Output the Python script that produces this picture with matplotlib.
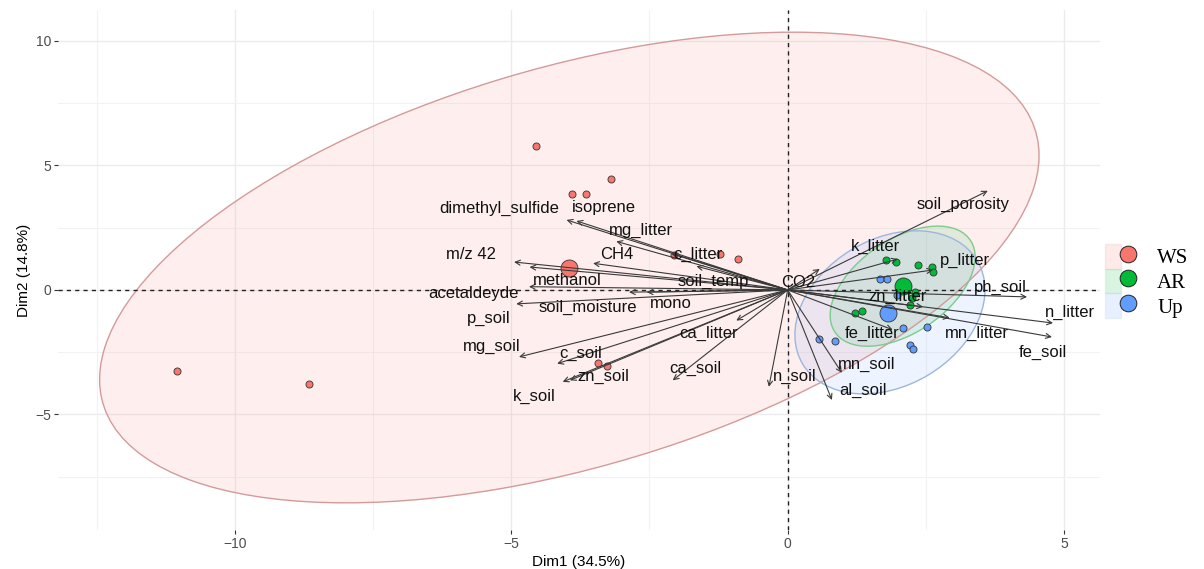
import matplotlib
matplotlib.use("Agg")
import matplotlib.pyplot as plt
from matplotlib.patches import Ellipse, Rectangle
from matplotlib.lines import Line2D
from matplotlib.legend_handler import HandlerTuple

# ---------------- data ----------------
groups = ["WS", "AR", "Up"]
group_colors = ["#F8766D", "#00BA38", "#619CFF"]

ws_x = [-4.55, -3.90, -3.64, -3.19, -1.23, -0.89, -2.05, -3.44, -3.26, -11.05, -8.66]
ws_y = [5.78, 3.86, 3.86, 4.46, 1.45, 1.24, 1.40, -2.93, -3.05, -3.25, -3.78]
ar_x = [1.78, 1.96, 2.36, 2.61, 2.63, 2.30, 2.21, 1.21, 1.34, 2.25]
ar_y = [1.20, 1.12, 1.00, 0.92, 0.72, -0.08, -0.60, -0.92, -0.84, -0.32]
up_x = [1.67, 1.79, 1.97, 2.08, 2.52, 2.21, 2.26, 0.56, 0.85]
up_y = [0.44, 0.44, -0.20, -1.53, -1.49, -2.21, -2.37, -1.97, -2.05]

mean_x = [-3.95, 2.08, 1.81]
mean_y = [0.88, 0.16, -0.92]

# ellipses: centre, full width, full height, angle (data units / degrees)
ell_cx = [-3.95, 2.08, 1.85]
ell_cy = [0.90, 0.15, -0.90]
ell_w = [21.90, 5.03, 6.64]
ell_h = [12.90, 2.20, 3.26]
ell_ang = [51.3, 71.6, 79.1]

var_names = ["dimethyl_sulfide", "isoprene", "mg_litter", "m/z 42", "CH4", "c_litter",
             "methanol", "soil_temp", "CO2", "acetaldeyde", "soil_moisture", "mono",
             "p_soil", "mg_soil", "c_soil", "zn_soil", "k_soil", "ca_litter", "ca_soil",
             "n_soil", "soil_porosity", "k_litter", "p_litter", "ph_soil", "zn_litter",
             "n_litter", "fe_litter", "mn_litter", "fe_soil", "mn_soil", "al_soil"]
var_x = [-4.00, -3.82, -3.10, -4.95, -3.52, -2.10, -4.67, -1.65, 0.58, -4.68, -2.55, -2.87,
         -4.91, -4.86, -4.17, -3.94, -4.07, -0.93, -2.08, -0.34, 3.62, 1.99, 2.63, 4.33,
         2.45, 4.80, 1.90, 2.93, 4.78, 0.98, 0.80]
var_y = [2.81, 2.77, 1.95, 1.12, 1.07, 1.45, 0.92, 0.95, 0.84, 0.13, -0.09, -0.09,
         -0.56, -2.69, -2.96, -3.63, -3.69, -1.23, -3.63, -3.89, 3.98, 1.24, 0.80, -0.28,
         -0.68, -1.33, -1.60, -1.12, -1.89, -3.33, -4.42]
lab_x = [-5.22, -3.33, -2.65, -5.72, -3.10, -1.63, -3.99, -1.34, 0.19, -5.69, -3.61, -2.11,
         -5.40, -5.35, -3.75, -3.33, -4.58, -1.44, -1.67, 0.12, 3.17, 1.58, 3.21, 3.84,
         1.99, 5.11, 1.52, 3.42, 4.62, 1.43, 1.36]
lab_y = [3.29, 3.29, 2.37, 1.42, 1.41, 1.43, 0.36, 0.35, 0.28, -0.16, -0.69, -0.53,
         -1.16, -2.27, -2.56, -3.47, -4.29, -1.76, -3.16, -3.49, 3.45, 1.73, 1.20, 0.12,
         -0.28, -0.92, -1.73, -1.73, -2.49, -3.01, -4.02]

x_label = "Dim1 (34.5%)"
y_label = "Dim2 (14.8%)"
x_major = [-10, -5, 0, 5]
y_major = [-5, 0, 5, 10]
x_minor = [-12.5, -7.5, -2.5, 2.5]
y_minor = [-7.5, -2.5, 2.5, 7.5]

# ---------------- figure ----------------
fig = plt.figure(figsize=(12.04, 5.69), dpi=100)
ax = fig.add_axes([58 / 1204, 39 / 569, (1100 - 58) / 1204, (530 - 10) / 569])
ax.set_xlim(-13.2, 5.65)
ax.set_ylim(-9.64, 11.24)

for s in ax.spines.values():
    s.set_visible(False)
ax.set_xticks(x_major)
ax.set_yticks(y_major)
ax.set_xticks(x_minor, minor=True)
ax.set_yticks(y_minor, minor=True)
ax.grid(True, which="major", color="#EBEBEB", lw=1.0, zorder=0)
ax.grid(True, which="minor", color="#F2F2F2", lw=0.8, zorder=0)
ax.set_axisbelow(True)
ax.tick_params(which="major", length=3, width=0.8, color="#333333",
               labelsize=10, labelcolor="#4D4D4D", pad=2)
ax.tick_params(which="minor", length=0)
ax.set_xlabel(x_label, fontsize=11, family="Liberation Sans", labelpad=3)
ax.set_ylabel(y_label, fontsize=11, family="Liberation Sans", labelpad=3)
for t in ax.get_xticklabels() + ax.get_yticklabels():
    t.set_family("Liberation Sans")

edge_cols = ["#D49A9A", "#7CCB8C", "#9DB6DE"]
for i in range(3):
    e = Ellipse((ell_cx[i], ell_cy[i]), ell_w[i], ell_h[i], angle=ell_ang[i],
                facecolor=group_colors[i], alpha=0.11, edgecolor="none", zorder=1)
    ax.add_patch(e)
    e2 = Ellipse((ell_cx[i], ell_cy[i]), ell_w[i], ell_h[i], angle=ell_ang[i],
                 facecolor="none", edgecolor=edge_cols[i], lw=1.0, zorder=1.5)
    ax.add_patch(e2)

ax.axhline(0, color="#222222", lw=1.0, ls=(0, (3, 3)), zorder=2)
ax.axvline(0, color="#222222", lw=1.0, ls=(0, (3, 3)), zorder=2)

pts = [(ws_x, ws_y), (ar_x, ar_y), (up_x, up_y)]
for i, (px, py) in enumerate(pts):
    ax.scatter(px, py, s=26, c=group_colors[i], edgecolors="#333333", linewidths=0.6, zorder=3)
    ax.scatter([mean_x[i]], [mean_y[i]], s=150, c=group_colors[i], edgecolors="#333333",
               linewidths=0.6, zorder=3)

for i in range(len(var_names)):
    ax.annotate("", xy=(var_x[i], var_y[i]), xytext=(0, 0),
                arrowprops=dict(arrowstyle="->", color="#3A3A3A", lw=0.8,
                                mutation_scale=9, shrinkA=0, shrinkB=0),
                zorder=4)
    ax.text(lab_x[i], lab_y[i], var_names[i], fontsize=12, family="Liberation Sans",
            color="#111111", ha="center", va="center", zorder=5)

# legend
handles = []
for i in range(3):
    r = Rectangle((0, 0), 1, 1, facecolor=group_colors[i], alpha=0.15,
                  edgecolor=edge_cols[i], lw=1.0)
    m = Line2D([], [], ls="none", marker="o", markersize=12, markerfacecolor=group_colors[i],
               markeredgecolor="#222222", markeredgewidth=0.7)
    handles.append((r, m))
leg = fig.legend(handles, groups, handler_map={tuple: HandlerTuple(ndivide=None, pad=0)},
                 loc="center left", bbox_to_anchor=(1105 / 1204, 1 - 281 / 569),
                 frameon=False, handlelength=1.5, handleheight=1.45, labelspacing=0.0,
                 handletextpad=1.0, borderaxespad=0, borderpad=0,
                 prop={"family": "Liberation Serif", "size": 15})

fig.savefig("out.png", dpi=100)
